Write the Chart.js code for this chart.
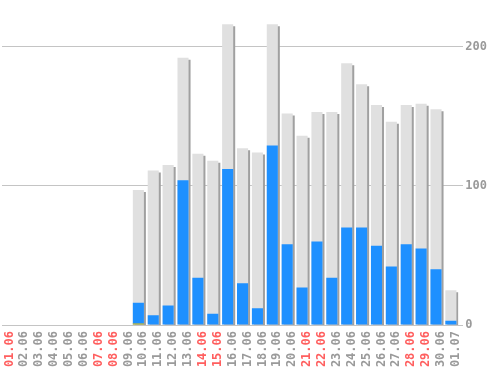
<!DOCTYPE html>
<html>
<head>
<meta charset="utf-8">
<script src="https://cdn.jsdelivr.net/npm/chart.js@4.4.1/dist/chart.umd.min.js"></script>
<style>
  html, body { margin: 0; padding: 0; background: #fff; overflow: hidden; }
  #wrap { width: 498px; height: 370px; }
</style>
</head>
<body>
<div id="wrap"><canvas id="dailyChart" width="498" height="370"></canvas></div>
<script>
// dias del periodo
const days = ['01.06', '02.06', '03.06', '04.06', '05.06', '06.06', '07.06', '08.06', '09.06', '10.06',
              '11.06', '12.06', '13.06', '14.06', '15.06', '16.06', '17.06', '18.06', '19.06', '20.06',
              '21.06', '22.06', '23.06', '24.06', '25.06', '26.06', '27.06', '28.06', '29.06', '30.06', '01.07'];
// fines de semana (en rojo)
const weekendDays = ['01.06', '07.06', '08.06', '14.06', '15.06', '21.06', '22.06', '28.06', '29.06'];

// valores
const totalValues  = [0, 0, 0, 0, 0, 0, 0, 0, 0, 97, 111, 115, 192, 123, 118, 216, 127, 124, 216, 152,
                      136, 153, 153, 188, 173, 158, 146, 158, 159, 155, 25];
const blueValues   = [0, 0, 0, 0, 0, 0, 0, 0, 0, 16, 7, 14, 104, 34, 8, 112, 30, 12, 129, 58,
                      27, 60, 34, 70, 70, 57, 42, 58, 55, 40, 3];
const yellowValues = [0, 0, 0, 0, 0, 0, 0, 0, 0, 1, 0, 0, 0, 0, 0, 0, 0, 0, 0, 0,
                      0, 0, 0, 0, 0, 0, 0, 0, 0, 0, 0];
const yTicks = [0, 100, 200];

const FONT = { family: '"DejaVu Sans Mono", monospace', size: 12, weight: 'bold' };

// sombra gris para las barras de fondo + pequeño corrimiento de las barras
const barShadow = {
    id: 'barShadow',
    beforeDatasetsDraw(chart) {
        chart.ctx.save();
        chart.ctx.translate(-5, 0);
    },
    afterDatasetsDraw(chart) {
        chart.ctx.restore();
    },
    beforeDatasetDraw(chart, args) {
        if (args.index !== 2) return;
        const ctx = chart.ctx;
        ctx.save();
        ctx.shadowColor = '#a0a0a0';
        ctx.shadowOffsetX = 2;
        ctx.shadowOffsetY = 2;
        ctx.shadowBlur = 0;
    },
    afterDatasetDraw(chart, args) {
        if (args.index !== 2) return;
        chart.ctx.restore();
    }
};

new Chart(document.getElementById('dailyChart'), {
    type: 'bar',
    data: {
        labels: days,
        datasets: [
            { data: yellowValues, backgroundColor: '#f2c200', order: 1 },
            { data: blueValues, backgroundColor: '#1e90ff', order: 2 },
            { data: totalValues, backgroundColor: '#e0e0e0', order: 3 }
        ]
    },
    options: {
        responsive: false,
        animation: false,
        layout: { padding: { left: 2, right: 9, top: 0, bottom: 0 } },
        datasets: {
            bar: { grouped: false, categoryPercentage: 1, barPercentage: 0.745, borderWidth: 0 }
        },
        plugins: {
            legend: { display: false },
            tooltip: { enabled: false }
        },
        scales: {
            x: {
                grid: { display: false, drawTicks: false },
                border: { display: false },
                afterFit: (s) => { s.height = 45; s.paddingLeft = 0; s.paddingRight = 0; },
                ticks: {
                    autoSkip: false,
                    minRotation: 90,
                    maxRotation: 90,
                    padding: 6,
                    font: FONT,
                    color: (c) => weekendDays.includes(days[c.index]) ? '#ff5f5f' : '#9a9a9a'
                }
            },
            y: {
                position: 'right',
                min: 0,
                max: 233.5,
                afterBuildTicks: (scale) => { scale.ticks = yTicks.map(v => ({ value: v })); },
                afterFit: (s) => { s.paddingTop = 0; s.paddingBottom = 0; },
                grid: { color: '#c4c4c4', lineWidth: 1, tickLength: 0, drawTicks: false },
                border: { display: false },
                ticks: { padding: 2, font: FONT, color: '#9a9a9a' }
            }
        }
    },
    plugins: [barShadow]
});
</script>
</body>
</html>
